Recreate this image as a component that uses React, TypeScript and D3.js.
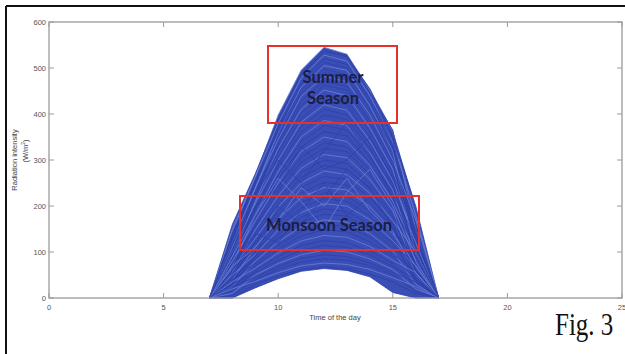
import React from "react";
import * as d3 from "d3";

const HOURS = [7, 8, 9, 10, 11, 12, 13, 14, 15, 16, 17];

// Hourly radiation intensity (W/m²) for each day, read/estimated from the figure
const DAYS: number[][] = [
  [0, 150, 265, 398, 495, 545, 530, 452, 362, 150, 0],
  [0, 160, 270, 390, 488, 540, 524, 455, 350, 200, 0],
  [0, 135, 255, 385, 485, 535, 528, 445, 365, 120, 0],
  [0, 145, 262, 380, 478, 528, 515, 440, 340, 180, 0],
  [0, 125, 245, 372, 470, 520, 508, 432, 345, 110, 0],
  [0, 130, 250, 368, 462, 512, 500, 425, 330, 160, 0],
  [0, 110, 238, 360, 458, 505, 495, 418, 320, 90, 0],
  [0, 140, 255, 362, 452, 498, 485, 410, 325, 140, 0],
  [0, 100, 228, 350, 445, 490, 478, 400, 305, 120, 0],
  [0, 120, 240, 345, 438, 482, 470, 398, 300, 170, 0],
  [0, 95, 220, 338, 428, 472, 460, 385, 295, 80, 0],
  [0, 115, 228, 330, 418, 462, 452, 378, 285, 130, 0],
  [0, 90, 210, 325, 410, 452, 440, 370, 280, 100, 0],
  [0, 105, 218, 318, 402, 442, 430, 362, 270, 150, 0],
  [0, 85, 200, 305, 390, 430, 420, 350, 262, 90, 0],
  [0, 100, 205, 300, 382, 420, 408, 342, 255, 120, 0],
  [0, 80, 195, 292, 372, 410, 398, 335, 248, 70, 0],
  [0, 95, 190, 285, 360, 398, 388, 325, 240, 110, 0],
  [0, 70, 180, 275, 350, 386, 375, 315, 235, 80, 0],
  [0, 88, 178, 268, 340, 375, 365, 305, 228, 130, 0],
  [0, 65, 170, 258, 328, 362, 352, 295, 220, 60, 0],
  [0, 80, 168, 250, 318, 350, 340, 288, 210, 100, 0],
  [0, 60, 160, 242, 305, 338, 328, 278, 205, 70, 0],
  [0, 75, 155, 232, 295, 325, 318, 268, 198, 110, 0],
  [0, 55, 148, 222, 282, 312, 305, 258, 190, 50, 0],
  [0, 70, 142, 215, 272, 300, 292, 248, 182, 90, 0],
  [0, 50, 135, 205, 262, 288, 280, 238, 175, 60, 0],
  [0, 65, 130, 198, 250, 276, 268, 228, 168, 100, 0],
  [0, 45, 122, 188, 240, 264, 258, 218, 160, 40, 0],
  [0, 60, 118, 180, 228, 252, 245, 208, 152, 80, 0],
  [0, 40, 110, 172, 218, 240, 235, 198, 145, 55, 0],
  [0, 55, 108, 162, 208, 228, 222, 188, 140, 90, 0],
  [0, 35, 100, 155, 196, 216, 210, 178, 130, 35, 0],
  [0, 50, 95, 148, 186, 205, 200, 170, 125, 70, 0],
  [0, 30, 90, 138, 176, 194, 188, 160, 118, 45, 0],
  [0, 45, 85, 130, 165, 182, 178, 150, 110, 80, 0],
  [0, 25, 80, 122, 155, 170, 165, 140, 102, 30, 0],
  [0, 40, 75, 115, 145, 160, 155, 132, 96, 60, 0],
  [0, 20, 70, 106, 135, 148, 144, 122, 90, 40, 0],
  [0, 35, 65, 98, 124, 136, 132, 112, 82, 55, 0],
  [0, 15, 60, 90, 114, 125, 120, 102, 75, 25, 0],
  [0, 30, 55, 82, 104, 114, 110, 94, 68, 40, 0],
  [0, 10, 50, 75, 94, 104, 100, 85, 62, 20, 0],
  [0, 25, 45, 68, 86, 94, 90, 76, 55, 35, 0],
  [0, 5, 40, 62, 78, 85, 82, 70, 50, 15, 0],
  [0, 20, 36, 55, 70, 76, 73, 62, 44, 25, 0],
  [0, 0, 30, 48, 62, 68, 64, 52, 35, 10, 0],
  [0, 0, 22, 42, 58, 64, 60, 46, 12, 0, 0],
  [0, 90, 180, 260, 210, 150, 230, 280, 200, 80, 0],
  [0, 60, 140, 120, 190, 250, 180, 220, 160, 50, 0],
  [0, 120, 230, 300, 250, 320, 380, 310, 220, 100, 0],
  [0, 70, 110, 170, 240, 200, 260, 190, 140, 70, 0],
  [0, 100, 200, 240, 330, 280, 300, 350, 260, 140, 0],
  [0, 40, 90, 200, 160, 220, 280, 240, 150, 60, 0],
];

const X_TICKS = [0, 5, 10, 15, 20, 25];
const Y_TICKS = [0, 100, 200, 300, 400, 500, 600];

export default function App() {
  const W = 625;
  const H = 354;
  const x = d3.scaleLinear().domain([0, 25]).range([49, 622]);
  const y = d3.scaleLinear().domain([0, 600]).range([298, 22]);

  const upper = HOURS.map((_, i) => d3.max(DAYS, (d) => d[i]) as number);
  const lower = HOURS.map((_, i) => d3.min(DAYS, (d) => d[i]) as number);

  const area = d3
    .area<number>()
    .x((_, i) => x(HOURS[i]))
    .y0((_, i) => y(lower[i]))
    .y1((_, i) => y(upper[i]));

  const line = d3
    .line<number>()
    .x((_, i) => x(HOURS[i]))
    .y((d) => y(d));

  const axisColor = "#9a9a9a";
  const tickFont = "'Liberation Sans', Arial, sans-serif";

  return (
    <svg
      width={W}
      height={H}
      style={{ position: "absolute", left: 0, top: 0, background: "#fff" }}
    >
      <rect x={0} y={0} width={W} height={H} fill="#fff" />
      {/* outer frame */}
      <line x1={6} y1={6} x2={W} y2={6} stroke="#111" strokeWidth={2} />
      <line x1={6} y1={6} x2={6} y2={H} stroke="#111" strokeWidth={2} />

      {/* data */}
      <path d={area(upper) || ""} fill="#3a4eb6" />
      {DAYS.map((d, i) => (
        <path
          key={i}
          d={line(d) || ""}
          fill="none"
          stroke={i % 3 === 0 ? "#6f80d2" : "#2c40aa"}
          strokeWidth={0.8}
        />
      ))}

      {/* axes box */}
      <rect
        x={x(0)}
        y={y(600)}
        width={x(25) - x(0)}
        height={y(0) - y(600)}
        fill="none"
        stroke={axisColor}
        strokeWidth={1.3}
      />
      {X_TICKS.map((t) => (
        <g key={"x" + t}>
          <line x1={x(t)} x2={x(t)} y1={y(0)} y2={y(0) - 5} stroke={axisColor} strokeWidth={1} />
          <line x1={x(t)} x2={x(t)} y1={y(600)} y2={y(600) + 5} stroke={axisColor} strokeWidth={1} />
          <text
            x={x(t)}
            y={310}
            textAnchor="middle"
            fontFamily={tickFont}
            fontSize={7.5}
            fill="#555"
          >
            {t}
          </text>
        </g>
      ))}
      {Y_TICKS.map((t) => (
        <g key={"y" + t}>
          <line x1={x(0)} x2={x(0) + 5} y1={y(t)} y2={y(t)} stroke={axisColor} strokeWidth={1} />
          <line x1={x(25)} x2={x(25) - 5} y1={y(t)} y2={y(t)} stroke={axisColor} strokeWidth={1} />
          <text
            x={46}
            y={y(t) + 2.5}
            textAnchor="end"
            fontFamily={tickFont}
            fontSize={7.5}
            fill="#555"
          >
            {t}
          </text>
        </g>
      ))}

      {/* axis labels */}
      <text
        x={335}
        y={320}
        textAnchor="middle"
        fontFamily={tickFont}
        fontSize={7.5}
        fill="#444"
      >
        Time of the day
      </text>
      <text
        transform="translate(17,160) rotate(-90)"
        textAnchor="middle"
        fontFamily={tickFont}
        fontSize={7.5}
        fill="#444"
      >
        Radiation intensity
      </text>
      <text
        transform="translate(28,151) rotate(-90)"
        textAnchor="middle"
        fontFamily={tickFont}
        fontSize={7.5}
        fill="#444"
      >
        (W/m<tspan baseline-shift="super" fontSize={5}>2</tspan>)
      </text>

      {/* annotations */}
      <rect x={268} y={46} width={129} height={77} fill="none" stroke="#e8302a" strokeWidth={2} />
      <text x={333} y={83} textAnchor="middle" fontFamily="Lato, 'Open Sans', sans-serif" fontWeight={700} fontSize={16.5} fill="#1b1e45">
        Summer
      </text>
      <text x={333} y={104} textAnchor="middle" fontFamily="Lato, 'Open Sans', sans-serif" fontWeight={700} fontSize={16.5} fill="#1b1e45">
        Season
      </text>
      <rect x={240} y={196} width={179} height={54} fill="none" stroke="#e8302a" strokeWidth={2} />
      <text x={329} y={231} textAnchor="middle" fontFamily="Lato, 'Open Sans', sans-serif" fontWeight={700} fontSize={16.5} fill="#1b1e45">
        Monsoon Season
      </text>

      {/* figure caption */}
      <text
        transform="translate(555,335) scale(1,1.3)"
        fontFamily="'Liberation Serif', 'Times New Roman', serif"
        fontSize={25}
        fill="#111"
      >
        Fig. 3
      </text>
    </svg>
  );
}
